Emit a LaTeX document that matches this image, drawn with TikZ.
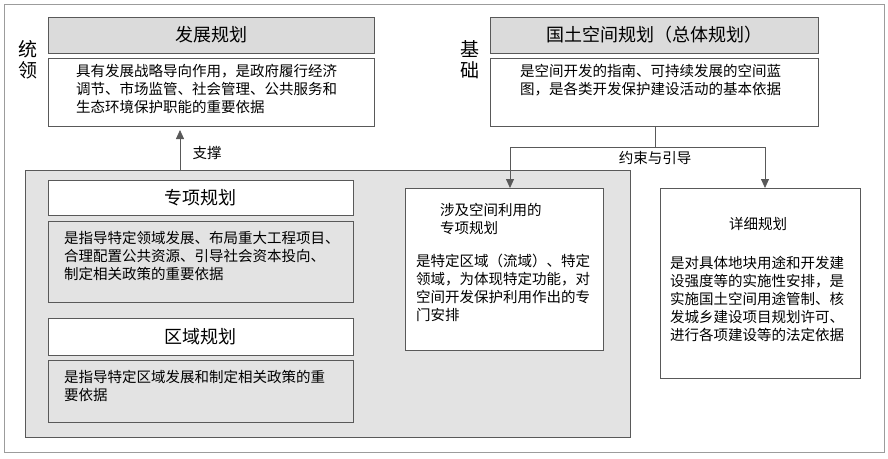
\documentclass[tikz,border=0pt]{standalone}
\usepackage{fontspec}
\setmainfont{Noto Sans CJK SC}
\usetikzlibrary{arrows.meta}
\definecolor{hdr}{gray}{0.86}
\definecolor{reg}{gray}{0.89}
\definecolor{ln}{gray}{0.35}
\begin{document}
\begin{tikzpicture}[x=1pt,y=-1pt,
 bx/.style={draw=ln,line width=0.6pt},
 head/.style={font=\fontsize{18}{20}\selectfont},
 body/.style={font=\fontsize{14.5}{18}\selectfont,align=left,anchor=north west,inner sep=0pt},
 arr/.style={draw=ln,line width=0.8pt,-{Triangle[length=9pt,width=8pt]}}]
\useasboundingbox (0,0) rectangle (888,458);
\draw[draw=ln!60,line width=0.6pt] (4,4) rectangle (884,452);
% left column
\node[font=\fontsize{19}{21}\selectfont,align=center] (tl) at (28,60) {统\\领};
\draw[bx,fill=hdr] (48,17) rectangle (374,53);
\node[head] (fz) at (211,35) {发展规划};
\draw[bx,fill=white] (48,58) rectangle (374,126);
\node[body] (fzt) at (76,64) {具有发展战略导向作用，是政府履行经济\\调节、市场监管、社会管理、公共服务和\\生态环境保护职能的重要依据};
% right column
\node[font=\fontsize{19}{21}\selectfont,align=center] (jc) at (470,60) {基\\础};
\draw[bx,fill=hdr] (490,17) rectangle (818,53);
\node[head] (gt) at (654,35) {国土空间规划（总体规划）};
\draw[bx,fill=white] (490,58) rectangle (818,126);
\node[body] (gtt) at (520,64) {是空间开发的指南、可持续发展的空间蓝\\图，是各类开发保护建设活动的基本依据};
% gray region
\draw[bx,fill=reg] (25,170) rectangle (630,437);
\draw[bx,fill=white] (48,180) rectangle (353,215);
\node[head] (zx) at (200,198) {专项规划};
\draw[bx,fill=reg] (48,221) rectangle (353,302);
\node[body] (zxt) at (64,231) {是指导特定领域发展、布局重大工程项目、\\合理配置公共资源、引导社会资本投向、\\制定相关政策的重要依据};
\draw[bx,fill=white] (48,318) rectangle (353,355);
\node[head] (qy) at (200,337) {区域规划};
\draw[bx,fill=reg] (48,360) rectangle (353,422);
\node[body] (qyt) at (64,370) {是指导特定区域发展和制定相关政策的重\\要依据};
\draw[bx,fill=white] (405,188) rectangle (603,350);
\node[body] (sj) at (440,203) {涉及空间利用的\\专项规划};
\node[body] (sjt) at (416,254) {是特定区域（流域）、特定\\领域，为体现特定功能，对\\空间开发保护利用作出的专\\门安排};
\draw[bx,fill=white] (660,188) rectangle (860,378);
\node[font=\fontsize{14.5}{16}\selectfont] (xx) at (758,224) {详细规划};
\node[body] (xxt) at (670,256) {是对具体地块用途和开发建\\设强度等的实施性安排，是\\实施国土空间用途管制、核\\发城乡建设项目规划许可、\\进行各项建设等的法定依据};
% connectors
\coordinate (s0) at (180,170);
\coordinate (s1) at (180,130);
\draw[arr] (s0) -- (s1);
\node[font=\fontsize{14.5}{16}\selectfont] (zc) at (207,153) {支撑};
\coordinate (g0) at (655,126);
\coordinate (g1) at (655,147);
\coordinate (gl) at (510,147);
\coordinate (gr) at (765,147);
\draw[draw=ln,line width=0.8pt] (g0) -- (g1) (gl) -- (gr);
\draw[arr] (gl) -- (510,188);
\draw[arr] (gr) -- (765,188);
\node[font=\fontsize{14.5}{16}\selectfont] (ys) at (655,158) {约束与引导};
\end{tikzpicture}
\end{document}
